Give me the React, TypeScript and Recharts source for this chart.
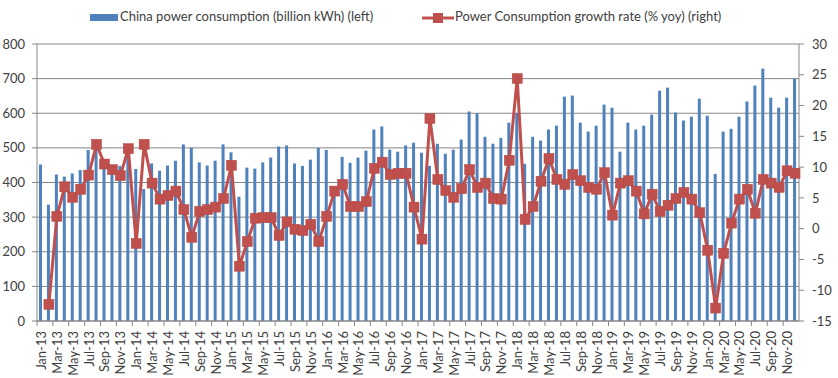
import React from 'react'
import { ComposedChart, Bar, Line, XAxis, YAxis, CartesianGrid } from 'recharts'

const MONTH_NAMES = ['Jan', 'Feb', 'Mar', 'Apr', 'May', 'Jun', 'Jul', 'Aug', 'Sep', 'Oct', 'Nov', 'Dec']
const YEARS = ['13', '14', '15', '16', '17', '18', '19', '20']
const months = YEARS.flatMap(y => MONTH_NAMES.map(m => `${m}-${y}`))

// billion kWh, left axis
const consumption = [
  452, 336, 423, 417, 426, 436, 494, 505, 442, 425, 448, 492,
  439, 381, 455, 434, 449, 463, 510, 500, 458, 449, 463, 510,
  487, 359, 443, 440, 458, 472, 504, 507, 455, 448, 466, 500,
  494, 385, 474, 457, 472, 492, 553, 562, 495, 489, 507, 515,
  486, 448, 512, 483, 495, 524, 605, 600, 532, 512, 529, 573,
  601, 454, 532, 521, 553, 564, 648, 651, 573, 547, 564, 625,
  616, 489, 573, 553, 564, 596, 665, 674, 602, 579, 590, 642,
  593, 425, 547, 555, 590, 634, 680, 729, 645, 616, 645, 700,
]

// % yoy, right axis (no value for Jan-13)
const growth = [
  null, -12.3, 2.0, 6.8, 5.1, 6.4, 8.7, 13.7, 10.5, 9.6, 8.6, 13.0,
  -2.4, 13.7, 7.4, 4.8, 5.4, 6.1, 3.1, -1.4, 2.8, 3.1, 3.5, 4.9,
  10.3, -6.1, -2.1, 1.7, 1.8, 1.8, -1.1, 1.1, -0.1, -0.3, 0.7, -2.1,
  2.0, 6.1, 7.2, 3.6, 3.6, 4.4, 9.8, 10.8, 8.8, 9.0, 9.0, 3.5,
  -1.7, 17.9, 8.0, 6.2, 5.1, 6.5, 9.6, 6.7, 7.4, 4.9, 4.8, 11.1,
  24.4, 1.5, 3.6, 7.7, 11.4, 8.0, 7.2, 8.8, 7.8, 6.7, 6.4, 9.1,
  2.2, 7.4, 7.8, 6.1, 2.4, 5.6, 2.8, 3.8, 4.9, 5.9, 4.8, 2.6,
  -3.5, -12.9, -4.0, 0.9, 4.8, 6.4, 2.5, 8.0, 7.4, 6.7, 9.4, 9.0,
]

const leftTicks = [0, 100, 200, 300, 400, 500, 600, 700, 800]
const rightTicks = [-15, -10, -5, 0, 5, 10, 15, 20, 25, 30]

const data = months.map((m, i) => ({ month: m, consumption: consumption[i], growth: growth[i] }))

const BLUE = '#4F81BD'
const RED = '#C0504D'
const AXIS = '#868686'
const TEXT = '#404040'
const FONT = 'Lato, "Noto Sans", sans-serif'

const XTick = (props: any) => {
  const { x, y, payload } = props
  const half = payload && payload.offset ? payload.offset : 3.97
  return (
    <g>
      <line x1={x - half} x2={x - half} y1={y} y2={y + 5} stroke={AXIS} />
      <text
        x={x}
        y={y + 10}
        transform={`rotate(-90, ${x}, ${y + 10})`}
        textAnchor="end"
        dominantBaseline="central"
        fontSize={13}
        fill={TEXT}
        fontFamily={FONT}
      >
        {payload.value}
      </text>
    </g>
  )
}

const SquareDot = (props: any) => {
  const { cx, cy, index } = props
  if (cx == null || cy == null) return <g key={`d${index}`} />
  return <rect key={`d${index}`} x={cx - 5} y={cy - 5} width={10} height={10} fill={RED} stroke="#B5463F" strokeWidth={0.5} />
}

const LegendBox = () => (
  <div style={{ position: 'absolute', left: 0, top: 7, width: 838, height: 20, fontFamily: FONT, fontSize: 13, color: TEXT }}>
    <div style={{ position: 'absolute', left: 90, top: 7, width: 28, height: 7, background: BLUE }} />
    <div style={{ position: 'absolute', left: 120, top: 1, whiteSpace: 'nowrap' }}>China power consumption (billion kWh) (left)</div>
    <svg style={{ position: 'absolute', left: 422, top: 4 }} width={32} height={14}>
      <line x1={0} x2={32} y1={7} y2={7} stroke={RED} strokeWidth={3} />
      <rect x={11} y={2} width={10} height={10} fill={RED} />
    </svg>
    <div style={{ position: 'absolute', left: 455, top: 1, whiteSpace: 'nowrap' }}>Power Consumption growth rate (% yoy) (right)</div>
  </div>
)

export default function App() {
  return (
    <div style={{ position: 'absolute', left: 0, top: 0, width: 838, height: 378, background: '#fff' }}>
      <LegendBox />
      <ComposedChart width={838} height={378} data={data} margin={{ top: 44, right: 0, left: 0, bottom: 0 }}>
        <CartesianGrid vertical={false} stroke={AXIS} yAxisId="left" />
        <XAxis
          dataKey="month"
          interval={1}
          tick={<XTick />}
          tickLine={false}
          tickSize={0}
          tickMargin={0}
          height={57}
          stroke={AXIS}
        />
        <YAxis
          yAxisId="left"
          domain={[0, 800]}
          ticks={leftTicks}
          width={37}
          stroke={AXIS}
          tickSize={5}
          tickMargin={7}
          tick={{ fill: TEXT, fontSize: 13, fontFamily: FONT }}
        />
        <YAxis
          yAxisId="right"
          orientation="right"
          domain={[-15, 30]}
          ticks={rightTicks}
          width={39}
          stroke={AXIS}
          tickSize={5}
          tickMargin={8}
          tick={{ fill: TEXT, fontSize: 13, fontFamily: FONT }}
        />
        <Bar yAxisId="left" dataKey="consumption" fill={BLUE} barSize={3} isAnimationActive={false} />
        <Line
          yAxisId="right"
          dataKey="growth"
          type="linear"
          stroke={RED}
          strokeWidth={3}
          dot={<SquareDot />}
          activeDot={false}
          isAnimationActive={false}
        />
      </ComposedChart>
    </div>
  )
}
